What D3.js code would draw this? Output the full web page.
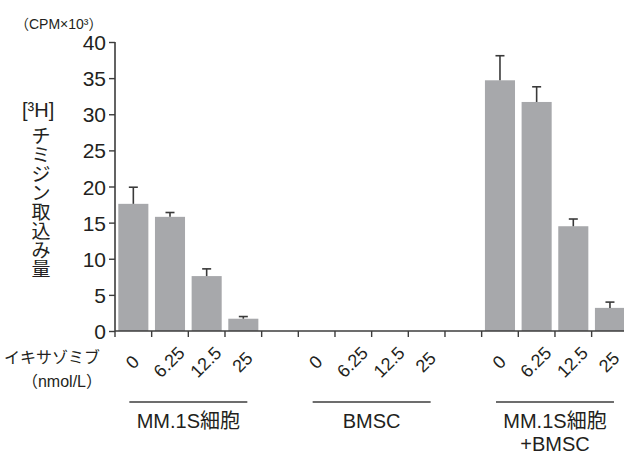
<!DOCTYPE html>
<html><head><meta charset="utf-8">
<script src="https://cdn.jsdelivr.net/npm/d3@7"></script>
<style>
html,body{margin:0;padding:0;background:#fff;}
svg{display:block;}
text{font-family:"Liberation Sans","Noto Sans CJK JP",sans-serif;fill:#231f20;}
</style></head>
<body>
<svg id="c" width="624" height="455"></svg>
<script>
const doses = ["0", "6.25", "12.5", "25"];
const groups = ["MM.1S細胞", "BMSC", "MM.1S細胞+BMSC"];
const groupLines = [["MM.1S細胞"], ["BMSC"], ["MM.1S細胞", "+BMSC"]];
const mmValues = [17.6, 15.8, 7.6, 1.7];
const mmErrors = [2.3, 0.6, 1.0, 0.3];
const bmscValues = [0, 0, 0, 0];
const bmscErrors = [0, 0, 0, 0];
const comboValues = [34.7, 31.7, 14.5, 3.2];
const comboErrors = [3.4, 2.1, 1.0, 0.8];
const yTicks = [0, 5, 10, 15, 20, 25, 30, 35, 40];

const seriesValues = [mmValues, bmscValues, comboValues];
const seriesErrors = [mmErrors, bmscErrors, comboErrors];

const svg = d3.select("#c");
const axisColor = "#3c3c3c";
const barColor = "#a7a8ab";

// 14 slots: 4 bars, gap, 4 bars, gap, 4 bars
const slots = d3.range(14);
const x = d3.scaleBand().domain(slots).range([115, 628.3]).paddingInner(0.18).paddingOuter(0.09);
const y = d3.scaleLinear().domain([0, 40]).range([331, 42]);
const step = x.step();
const slotCenter = i => x(i) + x.bandwidth() / 2;

const data = [];
groups.forEach((g, gi) => doses.forEach((d, di) => {
  data.push({group: g, gi, dose: d, di, slot: gi * 5 + di, v: seriesValues[gi][di], e: seriesErrors[gi][di]});
}));

// bars
svg.append("g").selectAll("rect").data(data.filter(d => d.v > 0)).join("rect")
  .attr("x", d => x(d.slot)).attr("width", x.bandwidth())
  .attr("y", d => y(d.v)).attr("height", d => y(0) - y(d.v))
  .attr("fill", barColor);

// error bars
const eb = svg.append("g").attr("stroke", "#3a3a3a").attr("stroke-width", 1.6).attr("fill", "none");
data.filter(d => d.v > 0).forEach(d => {
  const cx = slotCenter(d.slot);
  eb.append("line").attr("x1", cx).attr("x2", cx).attr("y1", y(d.v)).attr("y2", y(d.v + d.e));
  eb.append("line").attr("x1", cx - 4.5).attr("x2", cx + 4.5).attr("y1", y(d.v + d.e)).attr("y2", y(d.v + d.e));
});

// y axis
const yAxis = d3.axisLeft(y).tickValues(yTicks).tickSize(6).tickPadding(3);
const gy = svg.append("g").attr("transform", "translate(115,0)").call(yAxis);
gy.select(".domain").attr("stroke", axisColor).attr("stroke-width", 1.6).attr("d", `M0,${y(40)}V${y(0)}`);
gy.selectAll(".tick line").attr("stroke", axisColor).attr("stroke-width", 1.4);
gy.selectAll(".tick text").style("font-size", "21px").attr("fill", "#231f20").attr("dy", "0.36em");

// x axis
const gx = svg.append("g");
gx.append("line").attr("x1", 115).attr("x2", 624).attr("y1", y(0)).attr("y2", y(0))
  .attr("stroke", axisColor).attr("stroke-width", 1.6);
gx.selectAll("line.t").data(slots).join("line").attr("class", "t")
  .attr("x1", i => x(i) - step * 0.09).attr("x2", i => x(i) - step * 0.09)
  .attr("y1", y(0)).attr("y2", y(0) + 6)
  .attr("stroke", axisColor).attr("stroke-width", 1.4);

// dose labels (rotated, centred under each bar)
svg.append("g").selectAll("text").data(data).join("text")
  .attr("transform", d => `translate(${slotCenter(d.slot) - 1},${362}) rotate(-45)`)
  .attr("text-anchor", "middle").attr("dy", "0.35em")
  .style("font-size", "18px").text(d => d.dose);

// group lines and labels
groups.forEach((g, gi) => {
  const c0 = x(gi * 5) - step * 0.09, c1 = x(gi * 5 + 3) + x.bandwidth() + step * 0.09;
  const cx = (c0 + c1) / 2;
  svg.append("line").attr("x1", cx - 59).attr("x2", cx + 59).attr("y1", 402).attr("y2", 402)
    .attr("stroke", axisColor).attr("stroke-width", 1.4);
  groupLines[gi].forEach((t, li) => {
    svg.append("text").attr("x", cx).attr("y", 428 + li * 23).attr("text-anchor", "middle")
      .style("font-size", "20px").text(t);
  });
});

// left labels
svg.append("text").attr("x", 100).attr("y", 363).attr("text-anchor", "end").style("font-size", "16px").text("イキサゾミブ");
svg.append("text").attr("x", 102).attr("y", 387).attr("text-anchor", "end").style("font-size", "16px").text("（nmol/L）");
svg.append("text").attr("x", 15).attr("y", 29).style("font-size", "14px").text("（CPM×10³）");
svg.append("text").attr("x", 22).attr("y", 117).style("font-size", "20px").text("[³H]");
const vt = "チミジン取込み量".split("");
svg.append("g").selectAll("text").data(vt).join("text")
  .attr("x", 41).attr("y", (d, i) => 143 + i * 19).attr("text-anchor", "middle")
  .style("font-size", "19px").text(d => d);
</script>
</body></html>
